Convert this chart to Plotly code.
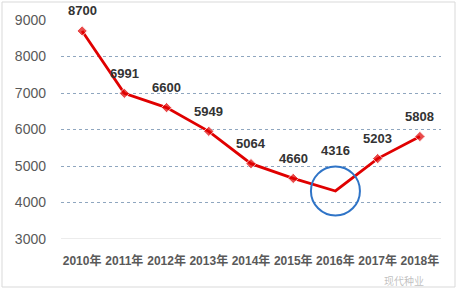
import plotly.graph_objects as go

years = ["2010年", "2011年", "2012年", "2013年", "2014年", "2015年", "2016年", "2017年", "2018年"]
values = [8700, 6991, 6600, 5949, 5064, 4660, 4316, 5203, 5808]
y_ticks = [3000, 4000, 5000, 6000, 7000, 8000, 9000]
highlight_index = 6
watermark = "现代种业"

W, H = 458, 290
L, R, T, B = 61, 17, 20, 51
pw, ph = W - L - R, H - T - B

marker_sizes = [0 if i == highlight_index else 8 for i in range(len(values))]

fig = go.Figure()
fig.add_trace(go.Scatter(
    x=list(range(len(years))), y=values, mode="lines+markers",
    line=dict(color="#E00000", width=2.8),
    marker=dict(symbol="diamond", size=marker_sizes, color="#E00000"),
    hoverinfo="skip", showlegend=False,
))

for i, v in enumerate(values):
    fig.add_annotation(
        x=i, y=v, text=str(v), showarrow=False,
        yshift=40 if i == highlight_index else 20,
        font=dict(family="Liberation Sans, Arial", size=13, color="#333333", weight="bold"),
    )

# highlight circle
fig.add_shape(
    type="circle", xref="x", yref="y", xsizemode="pixel", ysizemode="pixel",
    xanchor=highlight_index, yanchor=values[highlight_index],
    x0=-24.5, x1=24.5, y0=-24.5, y1=24.5,
    line=dict(color="#2F74C7", width=2),
)

# outer frame
fig.add_shape(
    type="rect", xref="paper", yref="paper",
    x0=(2 - L) / pw, x1=(455 - L) / pw, y0=-(287 - T - ph) / ph, y1=(T - 2) / ph + 1,
    line=dict(color="#D9D9D9", width=1), layer="below",
)

fig.add_annotation(
    xref="paper", yref="paper", x=(426 - L) / pw, y=-(271 - T - ph) / ph,
    yanchor="top", text=watermark, showarrow=False,
    font=dict(family="Noto Sans CJK SC", size=10, color="rgba(150,150,150,0.6)"),
)

fig.update_xaxes(
    range=[-0.5, len(years) - 0.5], tickmode="array",
    tickvals=list(range(len(years))), ticktext=years,
    showgrid=False, zeroline=False, showline=False, ticks="",
    ticklabelstandoff=13,
    tickfont=dict(family="Liberation Sans, Noto Sans CJK SC", size=12, color="#595959", weight="bold"),
)
fig.update_yaxes(
    range=[3000, 9000], tickvals=y_ticks,
    showgrid=True, gridcolor="#8FA6BF", griddash="dot", gridwidth=1,
    zeroline=False, showline=False, ticks="", ticklabelstandoff=14,
    tickfont=dict(family="Liberation Sans, Arial", size=14, color="#595959"),
)
# solid baseline at 3000
fig.add_shape(type="line", xref="paper", yref="y", x0=0, x1=1, y0=3000, y1=3000,
              line=dict(color="#D9D9D9", width=1))

fig.update_layout(
    width=W, height=H, margin=dict(l=L, r=R, t=T, b=B),
    paper_bgcolor="white", plot_bgcolor="white",
)
fig.write_html("out.html")
